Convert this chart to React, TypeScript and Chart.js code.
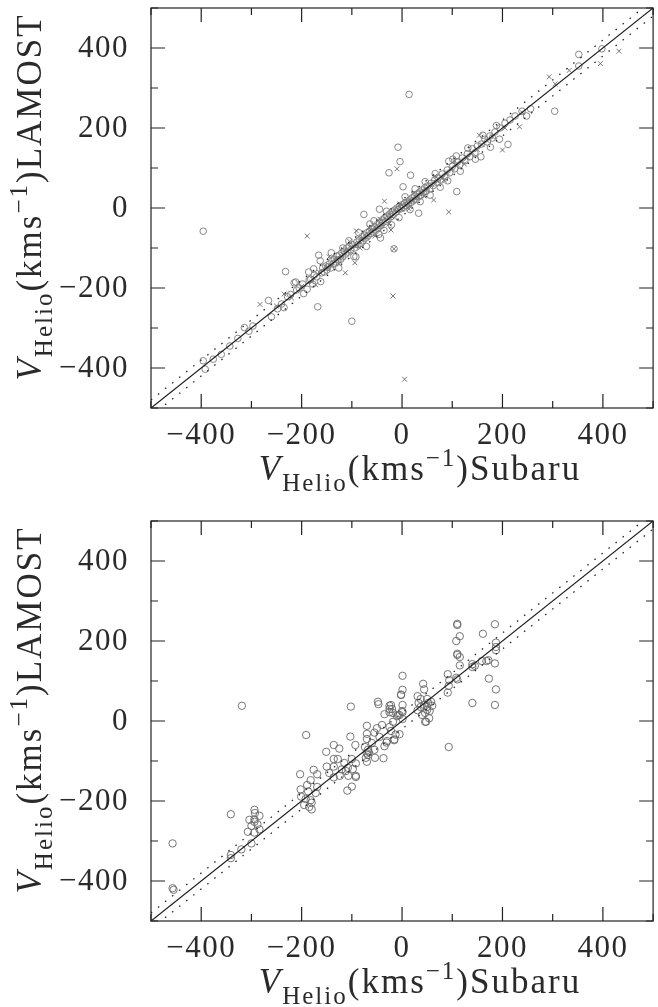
import React, { useEffect, useRef } from "react";
import { Chart, registerables } from "chart.js";

Chart.register(...registerables);

// ---- axis definition ----
const axisMin = -500;
const axisMax = 500;
const majorTicks = [-400, -200, 0, 200, 400];
const minorTicks = [-500, -300, -100, 100, 300, 500];
const diagX = [-500, 500];
const bandOffset = 20;

// ---- top panel data ----
const topCircles: number[][] = [
  [-396, -382], [-392, -403], [-376, -378], [-360, -366], [-343, -345], [-327, -326], [-314, -299], [-297, -295],
  [-305, -308], [-266, -231], [-260, -272], [-240, -240], [-235, -249], [-248, -252], [-232, -159], [-396, -58],
  [-228, -222], [-222, -216], [-215, -187], [-210, -205], [-205, -200], [-198, -190], [-189, -203], [-185, -180],
  [-182, -178], [-178, -190], [-175, -168], [-170, -172], [-168, -247], [-163, -132], [-160, -162], [-158, -150],
  [-155, -160], [-152, -145], [-150, -155], [-148, -148], [-145, -140], [-142, -150], [-140, -132], [-137, -140],
  [-135, -128], [-132, -135], [-130, -120], [-128, -130], [-125, -118], [-122, -128], [-120, -112], [-118, -122],
  [-115, -108], [-112, -115], [-110, -100], [-108, -110], [-105, -96], [-100, -283], [-102, -104], [-98, -92],
  [-95, -100], [-92, -122], [-90, -85], [-88, -92], [-85, -80], [-82, -88], [-80, -72], [-78, -82], [-76, -16],
  [-75, -68], [-72, -75], [-70, -62], [-68, -70], [-65, -58], [-62, -64], [-60, -52], [-58, -60], [-55, -48],
  [-52, -55], [-50, -42], [-48, -50], [-45, -3], [-45, -38], [-43, -75], [-42, -44], [-40, -30], [-38, -36],
  [-35, -25], [-32, -33], [-30, -20], [-28, -28], [-26, 88], [-25, -15], [-22, -22], [-20, -10], [-18, -16],
  [-16, -102], [-15, -5], [-12, -10], [-10, 0], [-8, 152], [-8, -4], [-5, 5], [-4, 116], [-2, -2], [0, 8],
  [2, 53], [3, 2], [5, 12], [8, 6], [10, 15], [12, 10], [14, 284], [15, 20], [17, 82], [18, 14], [20, 25],
  [22, 18], [25, 30], [28, 22], [30, 35], [33, -13], [33, 28], [35, 40], [38, 32], [40, 45], [42, 38], [45, 50],
  [48, 42], [50, 55], [55, 48], [58, 62], [62, 56], [65, 70], [70, 64], [72, 75], [78, 70], [80, 85], [85, 78],
  [90, 95], [93, 117], [95, 88], [100, 104], [105, 98], [108, 130], [109, 41], [110, 115], [115, 108], [120, 125],
  [125, 118], [130, 135], [135, 128], [140, 148], [145, 138], [150, 155], [157, 128], [158, 160], [165, 172],
  [170, 165], [175, 180], [180, 175], [185, 190], [194, 172], [195, 200], [205, 212], [211, 159], [215, 220],
  [225, 230], [239, 242], [248, 230], [256, 248], [304, 242], [352, 384], [352, 355], [398, 398],
  [-212, -185], [-196, -214], [-176, -152], [-162, -184], [-141, -112], [-126, -150], [-106, -82], [-96, -121],
  [-86, -62], [-71, -96], [-56, -32], [-46, -66], [-31, -8], [-21, -42], [-6, -24], [6, 28], [16, -4], [26, 48],
  [36, 16], [46, 66], [56, 32], [66, 86], [76, 52], [91, 68], [101, 122], [116, 92], [131, 150], [146, 122],
  [161, 182], [176, 152], [188, 206], [-166, -118], [-186, -160], [-118, -100], [-64, -40], [-36, -56],
];

const topCrosses: number[][] = [
  [-283, -241], [-189, -70], [-250, -245], [-220, -225], [-200, -196], [-180, -185], [-165, -160], [-150, -148],
  [-140, -145], [-130, -126], [-120, -124], [-113, -162], [-110, -108], [-100, -98], [-94, -137], [-91, -57],
  [-90, -94], [-80, -78], [-70, -74], [-60, -58], [-50, -52], [-40, -44], [-35, 17], [-30, -30], [-22, -55],
  [-20, -22], [-18, -220], [-10, 98], [-10, -8], [0, -4], [5, -428], [10, 8], [20, 18], [30, 26], [40, 38],
  [50, 48], [63, 20], [60, 58], [70, 68], [80, 76], [93, -10], [90, 88], [100, 98], [110, 108], [120, 118],
  [130, 126], [140, 138], [154, 182], [150, 146], [160, 158], [170, 168], [180, 178], [200, 145], [205, 200],
  [234, 203], [240, 238], [293, 328], [305, 310], [333, 344], [395, 361], [432, 392], [-16, -102],
  [-235, -215], [-172, -192], [-145, -122], [-125, -140], [-104, -84], [-84, -100], [-66, -50], [-54, -70],
  [-44, -28], [-26, -40], [-4, 10], [14, -2], [24, 38], [44, 30], [66, 80], [84, 70], [104, 118], [124, 110],
];

// ---- bottom panel data ----
const bottomCircles: number[][] = [
  [-457, -306], [-457, -418], [-455, -422], [-341, -233], [-319, 38],
  [-294, -222], [-293, -230], [-304, -247], [-284, -237], [-294, -246], [-294, -252], [-307, -277], [-294, -279],
  [-284, -271], [-300, -306], [-320, -321], [-341, -343], [-341, -335], [-300, -262], [-288, -258],
  [-191, -35], [-203, -133], [-202, -171], [-201, -189], [-189, -160], [-182, -148], [-176, -122], [-169, -133],
  [-187, -176], [-182, -198], [-180, -204], [-180, -221], [-192, -195], [-169, -165], [-195, -210], [-185, -215],
  [-172, -180],
  [-151, -77], [-136, -60], [-125, -69], [-136, -95], [-150, -114], [-136, -114], [-128, -95], [-120, -121],
  [-136, -141], [-124, -137], [-108, -117], [-107, -137], [-100, -164], [-109, -174], [-92, -137], [-92, -140],
  [-92, -106], [-100, -95], [-93, -60], [-102, 36], [-103, -39], [-115, -105], [-145, -130], [-112, -125],
  [-98, -120],
  [-70, -12], [-70, -32], [-70, -45], [-68, -72], [-70, -81], [-68, -85], [-70, -102], [-72, -92], [-66, -78],
  [-74, -65], [-55, -29], [-55, -72], [-54, -92], [-48, 48], [-47, 42], [-40, -10], [-37, -93], [-35, -63],
  [-35, 17], [-25, 38], [-25, 30], [-25, 22], [-18, -2], [-16, -48], [-13, -34], [-60, -55], [-45, -40],
  [-30, -50], [-50, -18],
  [-2, 65], [1, 40], [1, 22], [1, 5], [-8, 15], [1, 113], [1, 78], [-2, 66], [-22, 40], [-20, 30], [-18, 20],
  [-10, 12], [-5, 15], [0, 25], [-15, -46], [-5, -33], [-22, -25], [-25, -15], [-31, -54],
  [42, 93], [44, 79], [31, 62], [37, 55], [33, 45], [37, 35], [44, 40], [50, 55], [52, 45], [50, 35], [50, 28],
  [46, 20], [54, 7], [46, -2], [48, -2], [31, 27], [40, 15], [55, 25], [58, 48], [60, 38],
  [93, -65], [110, 243], [110, 240], [115, 212], [108, 200], [110, 168], [110, 165], [115, 160], [115, 139],
  [108, 108], [110, 104], [91, 117], [94, 102], [93, 88], [91, 71], [140, 142], [140, 135], [145, 138], [140, 45],
  [161, 218], [159, 150], [172, 152], [168, 150], [185, 242], [187, 196], [187, 185], [187, 177], [185, 144],
  [173, 106], [187, 79], [185, 40],
];

const xTitleTail = "Subaru";
const yTitleTail = "LAMOST";

const FONT = '"Liberation Serif", "Times New Roman", serif';

function fmt(v: number): string {
  return v < 0 ? "\u2212" + Math.abs(v) : String(v);
}

function drawTitle(ctx: CanvasRenderingContext2D, tail: string) {
  const segs = [
    { t: "V", f: `italic 35px ${FONT}`, dy: 0 },
    { t: "Helio", f: `25px ${FONT}`, dy: 11 },
    { t: "(kms", f: `35px ${FONT}`, dy: 0 },
    { t: "\u22121", f: `25px ${FONT}`, dy: -14 },
    { t: ")" + tail, f: `35px ${FONT}`, dy: 0 },
  ];
  (ctx as any).letterSpacing = "2px";
  let total = 0;
  const widths: number[] = [];
  for (const s of segs) {
    ctx.font = s.f;
    const w = ctx.measureText(s.t).width;
    widths.push(w);
    total += w;
  }
  let x = -total / 2;
  ctx.textAlign = "left";
  ctx.textBaseline = "alphabetic";
  segs.forEach((s, i) => {
    ctx.font = s.f;
    ctx.fillText(s.t, x, s.dy);
    x += widths[i];
  });
}

const framePlugin = {
  id: "frameTicks",
  afterDatasetsDraw(chart: any) {
    const { ctx, chartArea: a, scales } = chart;
    const xs = scales.x;
    const ys = scales.y;
    ctx.save();
    ctx.strokeStyle = "#222";
    ctx.lineWidth = 1.2;
    ctx.strokeRect(a.left, a.top, a.right - a.left, a.bottom - a.top);
    const drawTick = (v: number, len: number) => {
      const px = xs.getPixelForValue(v);
      const py = ys.getPixelForValue(v);
      ctx.beginPath();
      ctx.moveTo(px, a.bottom);
      ctx.lineTo(px, a.bottom - len);
      ctx.moveTo(px, a.top);
      ctx.lineTo(px, a.top + len);
      ctx.moveTo(a.left, py);
      ctx.lineTo(a.left + len, py);
      ctx.moveTo(a.right, py);
      ctx.lineTo(a.right - len, py);
      ctx.stroke();
    };
    majorTicks.forEach((v) => drawTick(v, 14));
    minorTicks.forEach((v) => drawTick(v, 7));

    ctx.fillStyle = "#2a2a2a";
    ctx.font = `31px ${FONT}`;
    (ctx as any).letterSpacing = "1.5px";
    ctx.textBaseline = "middle";
    ctx.textAlign = "center";
    majorTicks.forEach((v) => {
      ctx.fillText(fmt(v), xs.getPixelForValue(v), a.bottom + 28);
    });
    ctx.textAlign = "right";
    majorTicks.forEach((v) => {
      ctx.fillText(fmt(v), a.left - 22, ys.getPixelForValue(v) + 1);
    });

    // x title
    ctx.save();
    ctx.translate(420, 480);
    drawTitle(ctx, chart.options.plugins.frameTicks.xTail);
    ctx.restore();
    // y title
    ctx.save();
    ctx.translate(41, 197);
    ctx.rotate(-Math.PI / 2);
    drawTitle(ctx, chart.options.plugins.frameTicks.yTail);
    ctx.restore();

    ctx.restore();
  },
};

function toPts(arr: number[][]) {
  return arr.map((p) => ({ x: p[0], y: p[1] }));
}

function lineDatasets() {
  return [
    {
      data: diagX.map((v) => ({ x: v, y: v })),
      showLine: true,
      borderColor: "#1a1a1a",
      borderWidth: 1.2,
      pointRadius: 0,
    },
    {
      data: diagX.map((v) => ({ x: v, y: v + bandOffset })),
      showLine: true,
      borderColor: "#222",
      borderWidth: 1.3,
      borderDash: [1.5, 7.5],
      pointRadius: 0,
    },
    {
      data: diagX.map((v) => ({ x: v, y: v - bandOffset })),
      showLine: true,
      borderColor: "#222",
      borderWidth: 1.3,
      borderDash: [1.5, 7.5],
      pointRadius: 0,
    },
  ];
}

function makeConfig(datasets: any[], bottomPad: number): any {
  return {
    type: "scatter",
    data: { datasets },
    options: {
      animation: false,
      responsive: false,
      maintainAspectRatio: false,
      events: [],
      layout: { padding: { left: 151, right: 1, top: 8, bottom: bottomPad } },
      scales: {
        x: { type: "linear", min: axisMin, max: axisMax, display: false },
        y: { type: "linear", min: axisMin, max: axisMax, display: false },
      },
      plugins: {
        legend: { display: false },
        tooltip: { enabled: false },
        frameTicks: { xTail: xTitleTail, yTail: yTitleTail },
      },
    },
    plugins: [framePlugin],
  };
}

function Panel({ height, bottomPad, datasets }: { height: number; bottomPad: number; datasets: any[] }) {
  const ref = useRef<HTMLCanvasElement>(null);
  useEffect(() => {
    if (!ref.current) return;
    const chart = new Chart(ref.current, makeConfig(datasets, bottomPad));
    return () => chart.destroy();
  }, []);
  return (
    <canvas
      ref={ref}
      width={658}
      height={height}
      style={{ display: "block", width: 658, height }}
    />
  );
}

export default function App() {
  useEffect(() => {
    document.body.style.margin = "0";
    document.body.style.background = "#fff";
  }, []);

  const topSets = [
    ...lineDatasets(),
    {
      data: toPts(topCircles),
      pointStyle: "circle",
      pointRadius: 3.3,
      borderColor: "#7a7a7a",
      backgroundColor: "rgba(0,0,0,0)",
      borderWidth: 0.9,
    },
    {
      data: toPts(topCrosses),
      pointStyle: "crossRot",
      pointRadius: 3.4,
      borderColor: "#6a6a6a",
      borderWidth: 0.9,
    },
  ];
  const bottomSets = [
    ...lineDatasets(),
    {
      data: toPts(bottomCircles),
      pointStyle: "circle",
      pointRadius: 3.7,
      borderColor: "#666",
      backgroundColor: "rgba(0,0,0,0)",
      borderWidth: 0.9,
    },
  ];

  return (
    <div style={{ width: 658, background: "#fff" }}>
      <Panel height={513} bottomPad={105} datasets={topSets} />
      <Panel height={494} bottomPad={86} datasets={bottomSets} />
    </div>
  );
}
